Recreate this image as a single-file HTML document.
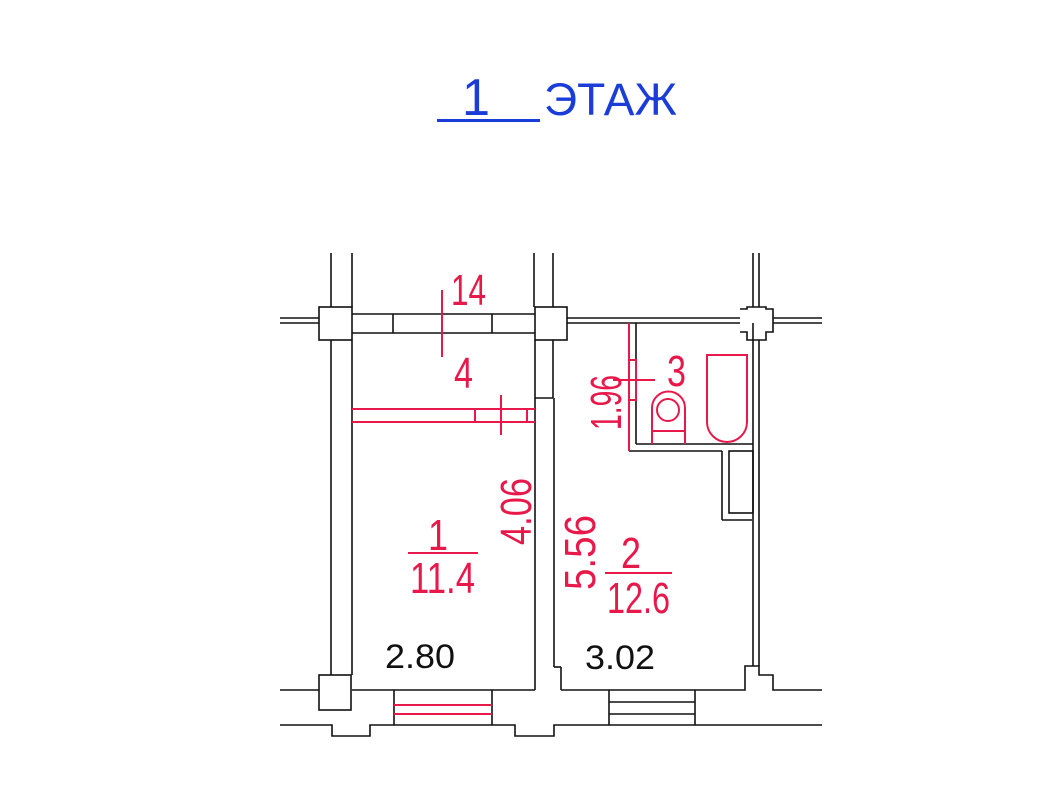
<!DOCTYPE html>
<html><head><meta charset="utf-8"><style>html,body{margin:0;padding:0;background:#fff}svg{display:block}</style></head>
<body>
<svg width="1057" height="793" viewBox="0 0 1057 793" xmlns="http://www.w3.org/2000/svg" font-family="Liberation Sans, sans-serif">
<rect width="1057" height="793" fill="#fff"/>
<g fill="#1a3cd8">
<text x="462" y="115" font-size="52" textLength="28" lengthAdjust="spacingAndGlyphs">1</text>
<text x="544" y="115" font-size="45" textLength="133" lengthAdjust="spacingAndGlyphs">ЭТАЖ</text>
<rect x="437" y="119" width="103" height="3"/>
</g>
<g stroke="#111" stroke-width="1.6" fill="none">
<line x1="331" y1="253" x2="331" y2="307"/><line x1="352" y1="253" x2="352" y2="307"/>
<line x1="331" y1="340" x2="331" y2="675"/><line x1="352" y1="340" x2="352" y2="675"/>
<rect x="319" y="307" width="33" height="33"/>
<line x1="280" y1="318" x2="319" y2="318"/><line x1="280" y1="323" x2="319" y2="323"/>
<line x1="352" y1="314" x2="535" y2="314"/><line x1="352" y1="333" x2="535" y2="333"/>
<line x1="393" y1="314" x2="393" y2="333"/><line x1="492" y1="314" x2="492" y2="333"/>
<rect x="535" y="307" width="32" height="33"/>
<line x1="534" y1="253" x2="534" y2="307"/><line x1="553" y1="253" x2="553" y2="307"/>
<line x1="535" y1="340" x2="535" y2="690"/><line x1="553" y1="340" x2="553" y2="398"/>
<line x1="535" y1="398" x2="553" y2="398"/>
<line x1="554" y1="398" x2="554" y2="667"/><line x1="554" y1="667" x2="561" y2="667"/><line x1="561" y1="667" x2="561" y2="690"/>
<line x1="567" y1="318" x2="740" y2="318"/><line x1="567" y1="323" x2="740" y2="323"/>
<path d="M740 309 L747 309 L747 307 L766 307 L766 309 L773 309 L773 332 L766 332 L766 340 L747 340 L747 332 L740 332"/>
<line x1="753" y1="253" x2="753" y2="307"/><line x1="759" y1="253" x2="759" y2="307"/>
<line x1="773" y1="318" x2="822" y2="318"/><line x1="773" y1="323" x2="822" y2="323"/>
<line x1="636" y1="323" x2="636" y2="444"/>
<line x1="636" y1="444" x2="753" y2="444"/>
<line x1="629" y1="451" x2="722" y2="451"/>
<line x1="722" y1="451" x2="722" y2="520"/><line x1="722" y1="520" x2="752" y2="520"/>
<rect x="729" y="451" width="24" height="62"/>
<line x1="753" y1="323" x2="753" y2="666"/><line x1="759" y1="340" x2="759" y2="666"/>
<path d="M561 690 L745 690 L745 666 L759 666 L759 675 L773 675 L773 690 L822 690"/>
<line x1="352" y1="690" x2="535" y2="690"/>
<rect x="319" y="675" width="32" height="35"/>
<line x1="280" y1="690" x2="319" y2="690"/>
<line x1="394" y1="690" x2="394" y2="725"/><line x1="492" y1="690" x2="492" y2="725"/>
<path d="M280 725 L332 725 L332 736 L370 736 L370 725 L515 725 L515 736 L554 736 L554 725 L822 725"/>
<line x1="609" y1="690" x2="609" y2="725"/><line x1="695" y1="690" x2="695" y2="725"/>
<line x1="609" y1="702" x2="695" y2="702"/><line x1="609" y1="714" x2="695" y2="714"/>
</g>
<g stroke="#e8194a" stroke-width="2" fill="none">
<line x1="442" y1="290" x2="442" y2="357"/>
<line x1="352" y1="409" x2="535" y2="409"/><line x1="352" y1="422" x2="535" y2="422"/>
<line x1="475" y1="409" x2="475" y2="422"/><line x1="501" y1="395" x2="501" y2="435"/><line x1="527" y1="409" x2="527" y2="422"/>
<line x1="394" y1="705" x2="492" y2="705"/><line x1="394" y1="714" x2="492" y2="714"/>
<line x1="629" y1="323" x2="629" y2="451"/>
<rect x="629" y="360" width="7" height="40"/>
<line x1="613" y1="380" x2="655" y2="380"/>
<path d="M652 444 L652 408 A16 16 0 0 1 685 408 L685 444 M652 431 L685 431"/>
<circle cx="668" cy="410" r="11"/>
<path d="M707 355 L747 355 L747 422 A20 20 0 0 1 707 422 Z"/>
<line x1="408" y1="553" x2="478" y2="553"/>
<line x1="605" y1="573" x2="672" y2="573"/>
</g>
<g fill="#e8194a" font-size="44">
<text x="451" y="305" textLength="35" lengthAdjust="spacingAndGlyphs">14</text>
<text x="454" y="388" textLength="19" lengthAdjust="spacingAndGlyphs">4</text>
<text x="667" y="386" textLength="19" lengthAdjust="spacingAndGlyphs">3</text>
<text x="428" y="550" textLength="20" lengthAdjust="spacingAndGlyphs">1</text>
<text x="410" y="593" textLength="65" lengthAdjust="spacingAndGlyphs">11.4</text>
<text x="621" y="568" textLength="20" lengthAdjust="spacingAndGlyphs">2</text>
<text x="607" y="613" textLength="63" lengthAdjust="spacingAndGlyphs">12.6</text>
<text transform="translate(531 545) rotate(-90)" textLength="67" lengthAdjust="spacingAndGlyphs">4.06</text>
<text transform="translate(595 590) rotate(-90)" textLength="75" lengthAdjust="spacingAndGlyphs">5.56</text>
<text transform="translate(621 430) rotate(-90)" textLength="55" lengthAdjust="spacingAndGlyphs">1.96</text>
</g>
<g fill="#111" font-size="34">
<text x="385" y="668" textLength="70" lengthAdjust="spacingAndGlyphs">2.80</text>
<text x="585" y="669" textLength="70" lengthAdjust="spacingAndGlyphs">3.02</text>
</g>
</svg>
</body></html>
